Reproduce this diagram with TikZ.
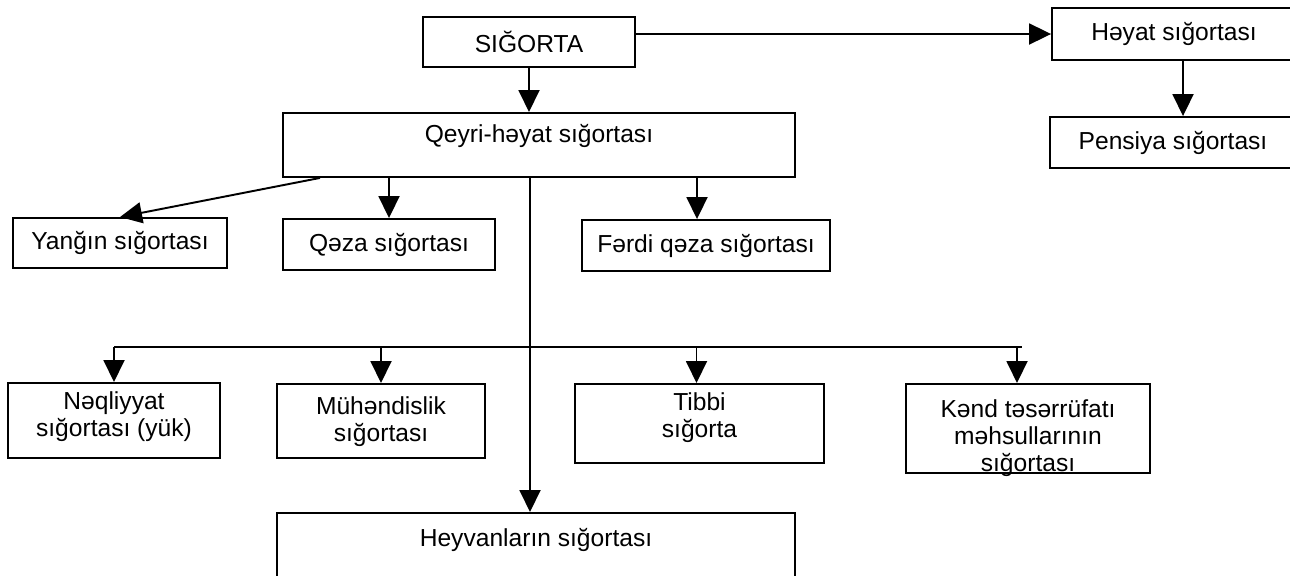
\documentclass[tikz,border=0pt]{standalone}
\usepackage{fontspec}
\setmainfont{Liberation Sans}
\usetikzlibrary{arrows.meta}

\begin{document}
\begin{tikzpicture}[x=0.02cm,y=-0.02cm,
    box/.style={draw,line width=1.1pt,align=center,inner sep=0pt,
        font=\fontsize{14pt}{15.5pt}\selectfont},
    arr/.style={line width=1.1pt,-{Triangle[length=0.44cm,width=0.42cm]}}]

  \useasboundingbox (0,0) rectangle (1290,575);

  \node[box,minimum width=4.24cm,minimum height=1cm] (sig) at (529,42) {SIĞORTA};
  \node[box,minimum width=4.88cm,minimum height=1.04cm] (heyat) at (1174,34) {Həyat sığortası};
  \node[box,minimum width=4.92cm,minimum height=1.02cm] (pensiya) at (1173,142.5) {Pensiya sığortası};
  \node[box,anchor=north,minimum width=10.24cm,text height=0.6cm,text depth=0.68cm]
       (qeyri) at (539,112) {Qeyri-həyat sığortası};

  \node[box,minimum width=4.28cm,minimum height=1cm] (yangin) at (120,243) {Yanğın sığortası};
  \node[box,minimum width=4.24cm,minimum height=1.02cm] (qeza) at (389,244.5) {Qəza sığortası};
  \node[box,minimum width=4.96cm,minimum height=1.02cm] (ferdi) at (706,245.5) {Fərdi qəza sığortası};

  \node[box,anchor=north,minimum width=4.24cm,text height=1.08cm,text depth=0.42cm]
       (neql) at (114,382) {Nəqliyyat\\sığortası (yük)};
  \node[box,anchor=north,minimum width=4.16cm,text height=1.16cm,text depth=0.32cm]
       (muh) at (381,383) {Mühəndislik\\sığortası};
  \node[box,anchor=north,minimum width=4.98cm,text height=1.08cm,text depth=0.5cm]
       (tibbi) at (699.5,383) {Tibbi\\sığorta};
  \node[box,anchor=north,minimum width=4.88cm,text height=1.76cm,text depth=0.02cm]
       (kend) at (1028,383) {Kənd təsərrüfatı\\məhsullarının\\sığortası};
  \node[box,anchor=north,minimum width=10.36cm,text height=0.68cm,text depth=1.3cm]
       (heyvan) at (536,512) {Heyvanların sığortası};

  \coordinate (hub) at (530,347);

  \draw[arr] (sig.south) -- (sig.south |- qeyri.north);
  \draw[arr] (sig.east |- heyat.west) -- (heyat.west);
  \draw[arr] ([xshift=0.18cm]heyat.south) -- ([xshift=0.18cm]heyat.south |- pensiya.north);

  \draw[arr] ([xshift=-4.38cm]qeyri.south) -- (yangin.north);
  \draw[arr] (qeza.north |- qeyri.south) -- (qeza.north);
  \draw[arr] ([xshift=-0.18cm]ferdi.north |- qeyri.south) -- ([xshift=-0.18cm]ferdi.north);

  \draw[arr] (qeyri.south -| hub) -- (heyvan.north -| hub);
  \draw[line width=1.1pt] (neql.north |- hub) -- ([xshift=-0.12cm]kend.north |- hub);
  \draw[arr] (neql.north |- hub) -- (neql.north);
  \draw[arr] (muh.north |- hub) -- (muh.north);
  \draw[arr] ([xshift=-0.06cm]tibbi.north |- hub) -- ([xshift=-0.06cm]tibbi.north);
  \draw[arr] ([xshift=-0.22cm]kend.north |- hub) -- ([xshift=-0.22cm]kend.north);

\end{tikzpicture}
\end{document}
